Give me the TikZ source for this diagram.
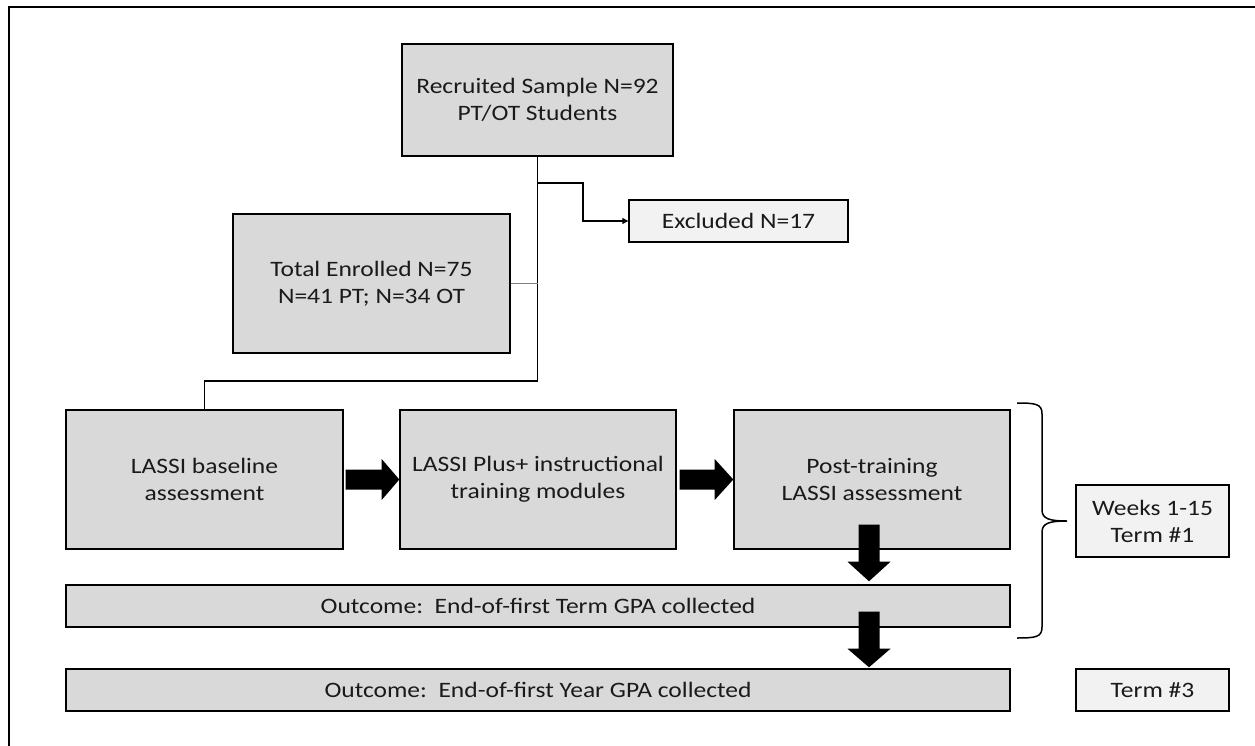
\documentclass[tikz,border=0pt]{standalone}
\usepackage{fontspec}
\setmainfont{Carlito}[FakeStretch=1.16]
\usetikzlibrary{arrows.meta,calc}
\definecolor{boxgray}{HTML}{D9D9D9}
\definecolor{lightbox}{HTML}{F2F2F2}
\definecolor{linkgray}{HTML}{7F7F7F}
\definecolor{txt}{HTML}{1A1A1A}
\begin{document}
\begin{tikzpicture}[x=1pt,y=-1pt,
  every node/.style={font=\fontsize{22}{27}\selectfont, align=center, inner sep=0pt, text=txt},
  mainbox/.style={draw=black, line width=1.4pt, fill=boxgray},
  sidebox/.style={draw=black, line width=1.4pt, fill=lightbox},
  link/.style={draw=black, line width=1.3pt},
  blockarrow/.style={fill=black}]
\useasboundingbox (0,0) rectangle (1255,746);
% frame
\draw[line width=2pt] (9,746) -- (9,7) -- (1255,7);

% nodes
\node[mainbox, minimum width=271pt, minimum height=112pt] (rec) at (537.5,100) {Recruited Sample N=92\\PT/OT Students};
\node[sidebox, minimum width=219pt, minimum height=42pt] (exc) at (738.5,221) {Excluded N=17};
\node[mainbox, minimum width=277pt, minimum height=139pt] (tot) at (371.5,283.5) {Total Enrolled N=75\\N=41 PT; N=34 OT};
\node[mainbox, minimum width=277pt, minimum height=139pt] (base) at (204.5,479.5) {LASSI baseline\\assessment};
\node[mainbox, minimum width=276pt, minimum height=139pt] (mods) at (538,479.5) {LASSI Plus+ instructional\\training modules};
\node[mainbox, minimum width=276pt, minimum height=139pt] (post) at (872,479.5) {Post-training\\LASSI assessment};
\node[mainbox, minimum width=944pt, minimum height=42pt] (term) at (538,606) {Outcome:\ \ End-of-first Term GPA collected};
\node[mainbox, minimum width=944pt, minimum height=42pt] (year) at (538,690) {Outcome:\ \ End-of-first Year GPA collected};
\node[sidebox, minimum width=153pt, minimum height=72pt] (weeks) at (1152.5,521) {Weeks 1-15\\Term \#1};
\node[sidebox, minimum width=153pt, minimum height=42pt] (t3) at (1152.5,690) {Term \#3};

% connector coordinates
\coordinate (jn) at (537.5,381);
\coordinate (b1) at (537.5,183);
\coordinate (b2) at (583,183);

% main flow line
\draw[link] (rec.south) -- (jn) -- (base.north |- jn) -- (base.north);
% exclusion branch
\draw[link, -{Triangle[length=6pt,width=6pt]}] (b1) -- (b2) |- (exc.west);
% enrolled link
\draw[draw=linkgray, line width=1pt] (tot.east) -- (tot.east -| jn);

% block arrows (right)
\fill[blockarrow] ($(base.east)+(2,-10)$) -- ++(36,0) -- ++(0,-10.5) -- ($(mods.west)$) -- ($(base.east)+(38,20.5)$) -- ++(0,-10.5) -- ($(base.east)+(2,10)$) -- cycle;
\fill[blockarrow] ($(mods.east)+(3,-10)$) -- ++(35,0) -- ++(0,-10.5) -- ($(post.west)$) -- ($(mods.east)+(38,20.5)$) -- ++(0,-10.5) -- ($(mods.east)+(3,10)$) -- cycle;
% block arrows (down)
\coordinate (d1) at ($(post.south)+(-3,0)$);
\fill[blockarrow] ($(d1)+(-10.5,-25)$) -- ($(d1)+(10.5,-25)$) -- ($(d1)+(10.5,12)$) -- ($(d1)+(21.5,12)$) -- ($(term.north -| d1)+(0,-3)$) -- ($(d1)+(-21.5,12)$) -- ($(d1)+(-10.5,12)$) -- cycle;
\coordinate (d2) at ($(term.south -| d1)$);
\fill[blockarrow] ($(d2)+(-10.5,-16)$) -- ($(d2)+(10.5,-16)$) -- ($(d2)+(10.5,21)$) -- ($(d2)+(21.5,21)$) -- ($(year.north -| d1)+(0,-1)$) -- ($(d2)+(-21.5,21)$) -- ($(d2)+(-10.5,21)$) -- cycle;

% brace
\draw[line width=1.5pt] (1017,403) .. controls (1036,403) and (1042,404) .. (1042,414) -- (1042,510)
  .. controls (1042,519) and (1050,521) .. (1067,521)
  .. controls (1050,521) and (1042,523) .. (1042,532) -- (1042,627)
  .. controls (1042,637) and (1036,638) .. (1017,638);
\end{tikzpicture}
\end{document}
